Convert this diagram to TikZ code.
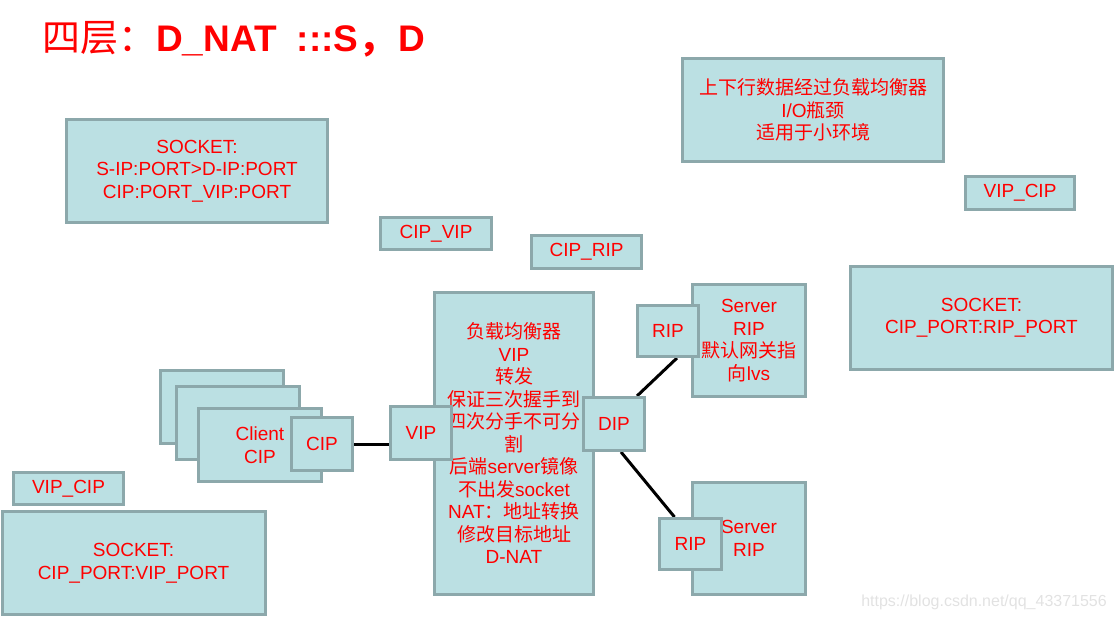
\documentclass[tikz,border=0pt]{standalone}
\usepackage{fontspec}
\setmainfont{Liberation Sans}
\newfontfamily\cjk{Noto Sans CJK SC}
\usetikzlibrary{calc,backgrounds}
\definecolor{boxfill}{HTML}{BBE0E3}
\definecolor{boxline}{HTML}{8CA8AB}
\definecolor{wmark}{HTML}{E2E2E2}
\newcommand{\zh}[1]{{\cjk #1}}
\tikzset{
  box/.style={draw=boxline, fill=boxfill, line width=3pt, text=red, align=center,
    inner sep=0pt, font=\fontsize{19pt}{22.5pt}\selectfont},
  link/.style={line width=3pt, draw=black},
}
\begin{document}
\begin{tikzpicture}[x=1pt,y=-1pt]
\useasboundingbox (0,0) rectangle (1116,618);
% title
\node[anchor=base west, text=red, inner sep=0pt] (title) at (42,52)
  {\fontsize{38pt}{40pt}\selectfont\zh{四层：}\fontsize{37pt}{40pt}\selectfont\bfseries D\_NAT\hspace{20pt}:::S\zh{，}\hspace{3pt}D};
% boxes
\node[box, minimum width=261pt, minimum height=103pt] (sock1) at (197,171)
  {SOCKET:\\S-IP:PORT>D-IP:PORT\\CIP:PORT\_VIP:PORT};
\node[box, minimum width=111pt, minimum height=32pt] (cipvip) at (436,233.5) {CIP\_VIP};
\node[box, minimum width=110pt, minimum height=33pt] (ciprip) at (586.5,252) {CIP\_RIP};
\node[box, minimum width=261pt, minimum height=103pt] (note) at (813,110)
  {\zh{上下行数据经过负载均衡器}\\I/O\zh{瓶颈}\\\zh{适用于小环境}};
\node[box, minimum width=109pt, minimum height=33pt] (vipcip1) at (1020,193) {VIP\_CIP};
\node[box, minimum width=262pt, minimum height=103pt] (sock2) at (981.5,318)
  {SOCKET:\\CIP\_PORT:RIP\_PORT};
\node[box, minimum width=159pt, minimum height=302pt] (lb) at (514,443.5)
  {\zh{负载均衡器}\\VIP\\\zh{转发}\\\zh{保证三次握手到}\\\zh{四次分手不可分}\\\zh{割}\\\zh{后端}server\zh{镜像}\\\zh{不出发}socket\\NAT\zh{：地址转换}\\\zh{修改目标地址}\\D-NAT};
\node[box, minimum width=61pt, minimum height=53pt] (vip) at (421,433) {VIP};
\node[box, minimum width=123pt, minimum height=73pt] (client1) at (222,407) {};
\node[box, minimum width=123pt, minimum height=73pt] (client2) at (238,423) {};
\node[box, minimum width=123pt, minimum height=73pt] (client3) at (260,445) {Client\\CIP};
\node[box, minimum width=61pt, minimum height=53pt] (cip) at (322,444) {CIP};
\node[box, minimum width=61pt, minimum height=53pt] (dip) at (614,424) {DIP};
\node[box, minimum width=113pt, minimum height=112pt] (server1) at (749,340.5)
  {Server\\RIP\\\zh{默认网关指}\\\zh{向}lvs};
\node[box, minimum width=61pt, minimum height=51pt] (rip1) at (668,331) {RIP};
\node[box, minimum width=113pt, minimum height=112pt] (server2) at (749,538.5) {Server\\RIP};
\node[box, minimum width=62pt, minimum height=51pt] (rip2) at (690.5,544) {RIP};
\node[box, minimum width=110pt, minimum height=32pt] (vipcip2) at (68.5,488.5) {VIP\_CIP};
\node[box, minimum width=263pt, minimum height=103pt] (sock3) at (133.5,563)
  {SOCKET:\\CIP\_PORT:VIP\_PORT};
% watermark
\node[anchor=base east, text=wmark, inner sep=0pt, font=\fontsize{16pt}{18pt}\selectfont] (wm) at (1107,606) {https://blog.csdn.net/qq\_43371556};
% connectors
\begin{scope}[on background layer]
\draw[link] (cip) -- (cip -| vip);
\draw[link] ([xshift=9pt]rip1.south) -- ([xshift=23pt]dip.north);
\draw[link] ([xshift=7pt]dip.south) -- ([xshift=-16pt]rip2.north);
\end{scope}
\end{tikzpicture}
\end{document}
